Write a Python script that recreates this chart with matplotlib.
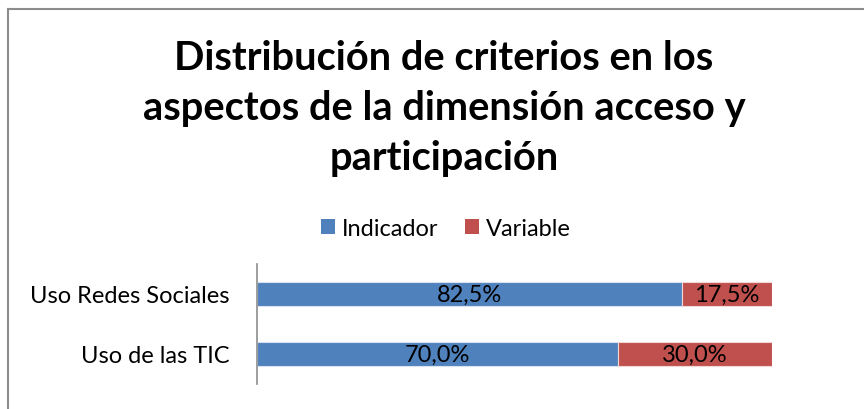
import matplotlib
matplotlib.use("Agg")
import matplotlib.pyplot as plt
from matplotlib.lines import Line2D
from matplotlib.patches import Patch

categories = ["Uso Redes Sociales", "Uso de las TIC"]
indicador = [82.5, 70.0]
variable = [17.5, 30.0]
series_names = ["Indicador", "Variable"]
title_lines = ["Distribución de criterios en los",
               "aspectos de la dimensión acceso y",
               "participación"]

blue = "#4F81BD"
red = "#C0504D"
font = "Lato"

W, H = 864, 410
fig = plt.figure(figsize=(W / 100, H / 100), dpi=100)

# frame (only top and left visible)
fig.add_artist(Line2D([8 / W, 8 / W], [0, 1 - 9.5 / H], color="#8c8c8c", lw=1.5, transform=fig.transFigure))
fig.add_artist(Line2D([8 / W, 1], [1 - 9.5 / H, 1 - 9.5 / H], color="#8c8c8c", lw=1.5, transform=fig.transFigure))

# title
ys = [70, 120, 170]
for line, y in zip(title_lines, ys):
    fig.text(444 / W, 1 - y / H, line, ha="center", va="baseline",
             fontsize=28.7, fontweight="bold", family=font, color="black")

ax = fig.add_axes([257 / W, 1 - 385 / H, 515 / W, 120 / H])
ypos = list(range(len(categories)))
b1 = ax.barh(ypos, indicador, height=0.4, color=blue, edgecolor="#d9e2ee", linewidth=0.8)
b2 = ax.barh(ypos, variable, left=indicador, height=0.4, color=red, edgecolor="#f0d8d8", linewidth=0.8)
ax.set_xlim(0, 100)
ax.set_ylim(1.5, -0.5)
ax.set_yticks(ypos)
ax.set_yticklabels(categories, family=font, fontsize=17)
ax.tick_params(axis="y", length=0, pad=19.5)
ax.set_xticks([])
for s in ["top", "right", "bottom"]:
    ax.spines[s].set_visible(False)
ax.spines["left"].set_color("#8c8c8c")
ax.spines["left"].set_linewidth(1.2)

def fmt(v):
    return f"{v:.1f}".replace(".", ",") + "%"

for i in ypos:
    ax.text(indicador[i] / 2, i, fmt(indicador[i]), ha="center", va="center",
            fontsize=17, family=font, color="black")
    ax.text(indicador[i] + variable[i] / 2, i, fmt(variable[i]), ha="center", va="center",
            fontsize=17, family=font, color="black")

handles = [Patch(facecolor=blue, label=series_names[0]), Patch(facecolor=red, label=series_names[1])]
fig.legend(handles=handles, loc="center", bbox_to_anchor=(446 / W, 1 - 229 / H), ncol=2,
           frameon=False, prop={"family": font, "size": 17}, handlelength=0.6, handleheight=0.6,
           handletextpad=0.3, columnspacing=1.1)

fig.savefig("out.png", dpi=100)
